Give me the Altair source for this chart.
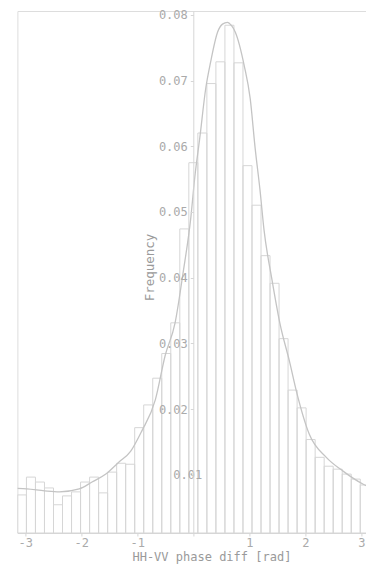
import numpy as np
import pandas as pd
import altair as alt

# Histogram: 39 bins over [-pi, pi], bar heights (frequency)
freq = [0.00692, 0.00963, 0.00888, 0.00798, 0.00542, 0.00677, 0.00738, 0.00888,
        0.00963, 0.00723, 0.01039, 0.01174, 0.01159, 0.01716, 0.02062, 0.02469,
        0.02845, 0.03312, 0.04742, 0.05750, 0.06202, 0.06955, 0.07286, 0.07843,
        0.07271, 0.05705, 0.05103, 0.04335, 0.03914, 0.03071, 0.02288, 0.02017,
        0.01535, 0.01264, 0.01129, 0.01084, 0.01009, 0.00933, 0.00843]

# Fitted curve, points
curve_x = [-3.1416, -2.973, -2.656, -2.391, -2.038, -1.809, -1.562, -1.332, -1.121,
           -0.926, -0.679, -0.503, -0.326, -0.185, -0.044, 0.026, 0.115, 0.221,
           0.309, 0.432, 0.521, 0.609, 0.679, 0.750, 0.909, 1.015, 1.103, 1.191,
           1.262, 1.403, 1.544, 1.721, 1.844, 2.073, 2.374, 2.673, 3.026, 3.1416]
curve_y = [0.0079, 0.00783, 0.00753, 0.00738, 0.00783, 0.00888, 0.01009, 0.01189,
           0.01355, 0.01656, 0.02138, 0.02815, 0.03312, 0.04064, 0.04922, 0.0553,
           0.06127, 0.0688, 0.07286, 0.07737, 0.0786, 0.07888, 0.0784, 0.07737,
           0.07226, 0.06729, 0.05976, 0.05329, 0.04727, 0.03974, 0.03312, 0.0271,
           0.02258, 0.01611, 0.01264, 0.01054, 0.00858, 0.0081]

x_ticks = [-3, -2, -1, 0, 1, 2, 3]
y_ticks = [0.01, 0.02, 0.03, 0.04, 0.05, 0.06, 0.07, 0.08]
y_min, y_max = 0.00112, 0.0806
x_min, x_max = -np.pi, 3.083
n_bins, bin_lo, bin_hi = len(freq), -np.pi, np.pi

edges = np.linspace(bin_lo, bin_hi, n_bins + 1)
bars = pd.DataFrame({"lo": edges[:-1], "hi": edges[1:], "f": freq, "base": y_min})
curve = pd.DataFrame({"x": curve_x, "y": curve_y})

FONT = "DejaVu Sans Mono"
GRAY_LINE = "#d6d6d6"
GRAY_TEXT = "#aaaaaa"

xscale = alt.Scale(domain=[x_min, x_max], nice=False, zero=False)
yscale = alt.Scale(domain=[y_min, y_max], nice=False, zero=False)

xaxis = alt.Axis(values=x_ticks,
                 labelExpr="datum.value == 0 ? '' : '' + datum.value",
                 title="HH-VV phase diff [rad]", grid=False, zindex=1,
                 domainColor=GRAY_LINE, tickColor=GRAY_LINE, tickSize=3,
                 labelColor=GRAY_TEXT, labelFont=FONT, labelFontSize=12,
                 labelPadding=1, titleColor="#9a9a9a", titleFont=FONT,
                 titleFontSize=12, titleFontWeight="normal", titlePadding=3,
                 titleX=194)

yaxis = alt.Axis(values=y_ticks, format=".2f", title="Frequency", grid=False,
                 offset=-175.9, zindex=1, domainColor=GRAY_LINE, tickColor=GRAY_LINE,
                 tickSize=3, labelColor=GRAY_TEXT, labelFont=FONT,
                 labelFontSize=12, labelPadding=3,
                 labelAlign={"condition": {"test": "datum.value < 0.015", "value": "center"},
                             "value": "right"},
                 titleColor="#9a9a9a", titleFont=FONT, titleFontSize=12.5,
                 titleFontWeight="normal", titlePadding=2, titleY=256)

hist = alt.Chart(bars).mark_rect(fill="#ffffff", fillOpacity=0, stroke=GRAY_LINE,
                                 strokeWidth=1, clip=True).encode(
    x=alt.X("lo:Q", scale=xscale, axis=xaxis),
    x2="hi:Q",
    y=alt.Y("f:Q", scale=yscale, axis=yaxis),
    y2="base:Q",
)

line = alt.Chart(curve).mark_line(color="#c4c4c4", strokeWidth=1.3, clip=True,
                                  interpolate="monotone").encode(
    x=alt.X("x:Q", scale=xscale),
    y=alt.Y("y:Q", scale=yscale),
)

chart = alt.layer(hist, line).properties(
    width=348.6, height=522,
    autosize=alt.AutoSizeParams(type="none"),
    padding={"left": 9.4, "top": 3, "right": 0, "bottom": 31},
).configure_view(strokeWidth=0).configure(background="white")

chart.save("out.html", embed_options={"renderer": "svg", "actions": False})
